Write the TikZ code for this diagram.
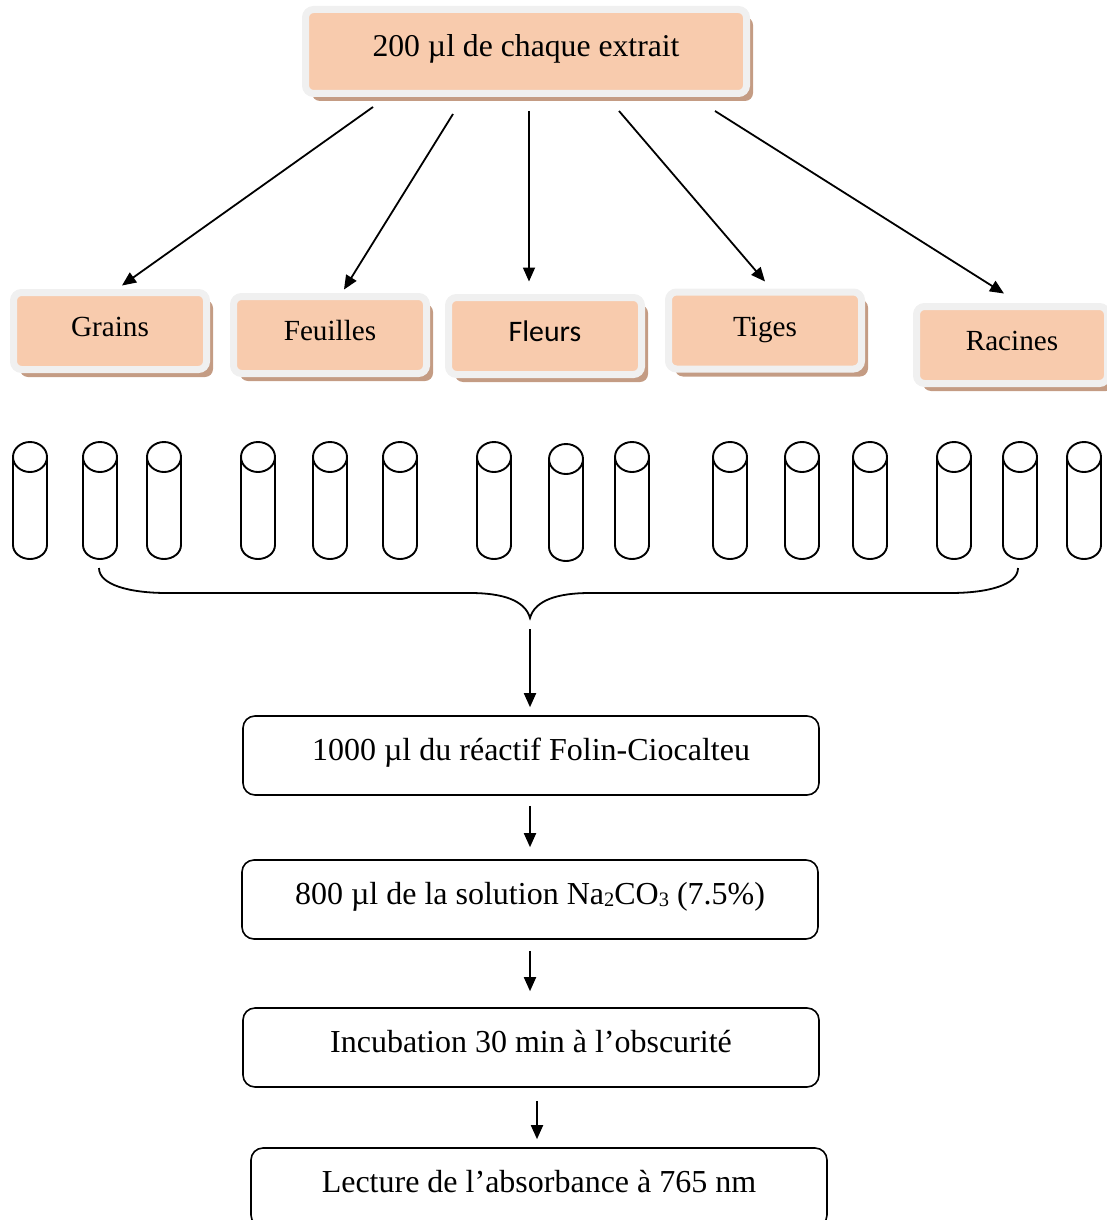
\documentclass[tikz,border=0pt]{standalone}
\usepackage{fontspec}
\setmainfont{Liberation Serif}
\newfontfamily\calibrifont{Carlito}
\usetikzlibrary{arrows.meta,shadows,calc}

\definecolor{peach}{HTML}{F8CBAD}
\definecolor{framegrey}{HTML}{F0F0F0}
\definecolor{shadowtan}{HTML}{C49C84}

% small lowered digits for the chemical formula
\newcommand\chemsub[1]{\raisebox{-2.5pt}{\fontsize{20.5}{21}\selectfont #1}}

\tikzset{
  sample/.style={rectangle, rounded corners=8pt, fill=peach, draw=framegrey,
    line width=7pt, minimum width=193pt, minimum height=77pt, inner sep=0pt,
    text height=20pt, text depth=9pt, font=\fontsize{29.2}{33}\selectfont,
    drop shadow={shadow xshift=6.5pt, shadow yshift=-7.5pt, fill=shadowtan, opacity=1}},
  stepbox/.style={rectangle, rounded corners=12pt, draw=black, line width=1.6pt,
    minimum width=576pt, minimum height=79pt, inner sep=0pt,
    text height=22pt, text depth=13pt, font=\fontsize{32}{37}\selectfont},
  arr/.style={-{Triangle[length=14pt,width=12pt]}, line width=1.8pt},
  tube/.style={line width=1.9pt},
}

\begin{document}
\begin{tikzpicture}[x=1pt, y=-1pt]
\useasboundingbox (0,0) rectangle (1106,1220);

% extract and plant parts
\node[sample, minimum width=441pt, minimum height=84pt,
      text height=22pt, text depth=11pt, font=\fontsize{31.7}{36}\selectfont]
      (top) at (526,51.5) {200 µl de chaque extrait};
\node[sample] (grains)   at (110,331)   {Grains};
\node[sample] (feuilles) at (330,335)   {Feuilles};
\node[sample, font=\calibrifont\fontsize{29.8}{33}\selectfont] (fleurs) at (545,336) {Fleurs};
\node[sample] (tiges)    at (765,330.5) {Tiges};
\node[sample, minimum width=191pt] (racines) at (1012,345) {Racines};

\coordinate (s1) at (373,107);
\coordinate (s2) at (453,114);
\coordinate (s3) at (529,111);
\coordinate (s4) at (619,111);
\coordinate (s5) at (715,111);
\draw[arr] (s1) -- ([xshift=12pt,yshift=3.5pt]grains.north);
\draw[arr] (s2) -- ([xshift=14pt,yshift=3.5pt]feuilles.north);
\draw[arr] (s3) -- ([xshift=-16pt,yshift=12.5pt]fleurs.north);
\draw[arr] (s4) -- ([xshift=0pt,yshift=7pt]tiges.north);
\draw[arr] (s5) -- ([xshift=-8pt,yshift=9.5pt]racines.north);

% test tubes
\foreach \cx/\dy in {30/0,100/0,164/0,258/0,330/0,400/0,494/0,566/2,632/0,
                     730/0,802/0,870/0,954/0,1020/0,1084/0}{
  \draw[tube] (\cx,{457+\dy}) ellipse [x radius=17pt, y radius=15pt];
  \draw[tube] (\cx-17,{457+\dy}) -- (\cx-17,{545+\dy})
      arc[start angle=180, end angle=360, x radius=17pt, y radius=14pt]
      -- (\cx+17,{457+\dy});
}

% brace gathering the tubes
\coordinate (bt) at (530,618);
\draw[line width=1.8pt] (99,568) .. controls (99,585) and (130,593) .. (167,593)
  -- (470,593) .. controls (502,593) and (525,600) .. (bt)
  .. controls (535,600) and (558,593) .. (590,593)
  -- (950,593) .. controls (988,593) and (1018,585) .. (1018,568);

% protocol steps
\node[stepbox] (b1) at (531,755.5) {1000 µl du réactif Folin-Ciocalteu};
\node[stepbox] (b2) at (530,899.5) {800 µl de la solution Na\chemsub{2}CO\chemsub{3} (7.5\%)};
\node[stepbox] (b3) at (531,1047.5) {Incubation 30 min à l’obscurité};
\node[stepbox] (b4) at (539,1187.5) {Lecture de l’absorbance à 765 nm};

\draw[arr] ([yshift=-11pt]bt) -- ([xshift=-1pt,yshift=8pt]b1.north);
\draw[arr] ([xshift=-1pt,yshift=-10pt]b1.south) -- ([yshift=12pt]b2.north);
\draw[arr] ([yshift=-11pt]b2.south) -- ([xshift=-1pt,yshift=16pt]b3.north);
\draw[arr] ([xshift=6pt,yshift=-13pt]b3.south) -- ([xshift=-2pt,yshift=8pt]b4.north);
\end{tikzpicture}
\end{document}
